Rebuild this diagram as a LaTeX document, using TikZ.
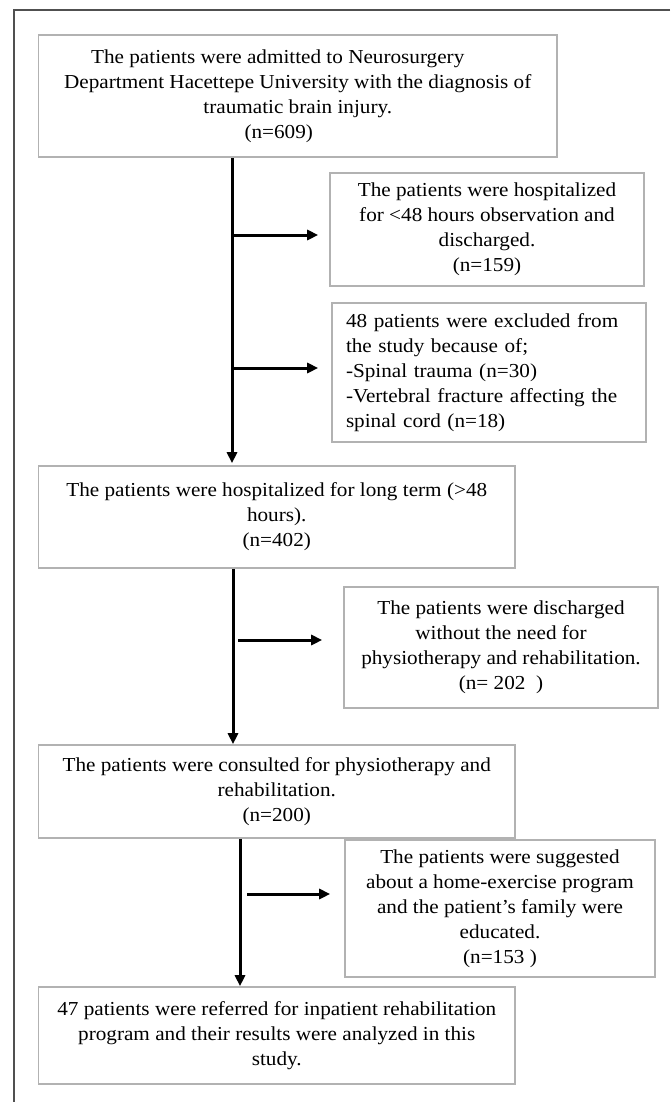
\documentclass[tikz,border=0pt]{standalone}
\usepackage{fontspec}
\setmainfont{Liberation Serif}[FakeStretch=1.07]
\usetikzlibrary{arrows.meta}
\definecolor{boxgray}{RGB}{178,178,178}
\definecolor{framegray}{RGB}{80,80,80}

\begin{document}
\begin{tikzpicture}[x=1pt,y=-1pt,
    box/.style={draw=boxgray,line width=1.6pt,inner sep=0pt,align=center,
      font=\fontsize{19.8}{25}\selectfont},
    arr/.style={line width=3pt,-{Triangle[length=11pt,width=10pt]}}]
  \useasboundingbox (0,0) rectangle (670,1102);
  \draw[framegray,line width=1.4pt] (670,10) -- (14,10) -- (14,1102);

  \node[box,minimum width=518.5pt,minimum height=122pt] (admit) at (297.75,96)
    {The patients were admitted to Neurosurgery\hspace*{40pt}\\
     Department Hacettepe University with the diagnosis of\\
     traumatic brain injury.\hspace*{40pt}\\
     (n=609)\hspace*{38pt}};
  \node[box,minimum width=314pt,minimum height=113pt] (short) at (487,229.5)
    {The patients were hospitalized\\for <48 hours observation and\\discharged.\\(n=159)};
  \node[box,align=left,text width=286pt,inner xsep=14pt,minimum height=139pt] (excl) at (489,372.5)
    {48 patients were excluded from\\the study because of;\\-Spinal trauma (n=30)\\
     -Vertebral fracture affecting the\\spinal cord (n=18)};
  \node[box,minimum width=476.5pt,minimum height=102pt] (long) at (276.75,517)
    {The patients were hospitalized for long term (>48\\hours).\\(n=402)};
  \node[box,minimum width=314pt,minimum height=121pt] (disch) at (501,647.5)
    {The patients were discharged\\without the need for\\physiotherapy and rehabilitation.\\(n=\ 202\ \ )};
  \node[box,minimum width=476.5pt,minimum height=93pt] (consult) at (276.75,791.5)
    {The patients were consulted for physiotherapy and\\rehabilitation.\\(n=200)};
  \node[box,minimum width=310pt,minimum height=137pt] (home) at (500,908.5)
    {The patients were suggested\\about a home-exercise program\\and the patient's family were\\educated.\\(n=153\ )};
  \node[box,minimum width=476.5pt,minimum height=97pt] (refer) at (276.75,1035.5)
    {47 patients were referred for inpatient rehabilitation\\program and their results were analyzed in this\\study.};

  % trunk and side arrows
  \coordinate (j1) at (232,235);
  \coordinate (j2) at (232,368);
  \coordinate (j3) at (233,640);
  \coordinate (j4) at (240,894);
  \draw[arr,shorten >=2pt] (admit.south -| j1) -- (long.north -| j1);
  \draw[arr,shorten >=11pt] (j1) -- (j1 -| short.west);
  \draw[arr,shorten >=13pt] (j2) -- (j2 -| excl.west);
  \draw[arr] (long.south -| j3) -- (consult.north -| j3);
  \draw[arr,shorten <=5pt,shorten >=21pt] (j3) -- (j3 -| disch.west);
  \draw[arr] (consult.south -| j4) -- (refer.north -| j4);
  \draw[arr,shorten <=7pt,shorten >=14pt] (j4) -- (j4 -| home.west);
\end{tikzpicture}
\end{document}
